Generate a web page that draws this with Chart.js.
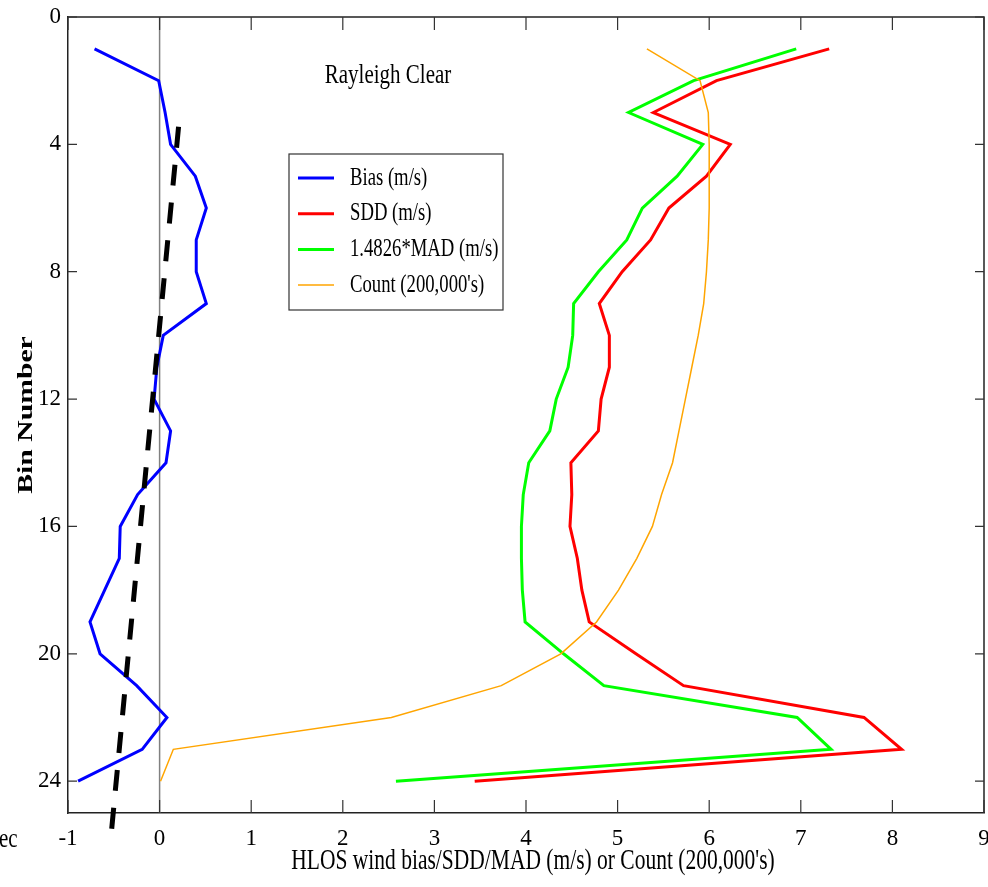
<!DOCTYPE html>
<html><head><meta charset="utf-8">
<script src="https://cdn.jsdelivr.net/npm/chart.js@4/dist/chart.umd.min.js"></script>
<style>html,body{margin:0;padding:0;background:#fff;}</style>
</head><body>
<canvas id="c" width="988" height="887"></canvas>
<script>
const bins = [1,2,3,4,5,6,7,8,9,10,11,12,13,14,15,16,17,18,19,20,21,22,23,24];
const bias = [-0.71,-0.01,0.06,0.12,0.39,0.51,0.40,0.40,0.51,0.04,-0.03,-0.06,0.12,0.07,-0.24,-0.43,-0.44,-0.60,-0.76,-0.65,-0.25,0.08,-0.19,-0.89];
const sdd = [7.31,6.08,5.39,6.23,5.97,5.56,5.36,5.05,4.80,4.91,4.91,4.82,4.79,4.49,4.50,4.48,4.56,4.61,4.69,5.20,5.72,7.69,8.10,3.44];
const mad = [6.95,5.83,5.12,5.93,5.65,5.27,5.10,4.79,4.52,4.51,4.46,4.33,4.26,4.03,3.97,3.95,3.95,3.96,3.99,4.41,4.85,6.96,7.33,2.58];
const count = [5.32,5.90,5.99,6.00,6.00,6.00,5.99,5.97,5.94,5.88,5.81,5.74,5.67,5.60,5.48,5.38,5.21,5.01,4.77,4.38,3.73,2.53,0.15,0.01];
const trendBins = [3.45, 25.62];
const trendX = [0.207, -0.527];
const zeroBins = [0, 25];
const zeroX = [0, 0];
const xTicks = [-1,0,1,2,3,4,5,6,7,8,9];
const yTicks = [0,4,8,12,16,20,24];
const seriesLabels = ["Bias (m/s)", "SDD (m/s)", "1.4826*MAD (m/s)", "Count (200,000's)"];
const chartTitle = "Rayleigh Clear";
const xTitle = "HLOS wind bias/SDD/MAD (m/s) or Count (200,000's)";
const yTitle = "Bin Number";
const cornerText = "ec";

const FONT = "'Liberation Serif', 'Times New Roman', serif";
const STRETCH = 1.35;
const pts = (xs, ys) => xs.map((v, i) => ({x: v, y: ys[i]}));
const line = (o) => Object.assign({showLine: true, pointRadius: 0, fill: false, tension: 0}, o);

const datasets = [
  line({label: 'trend', data: pts(trendX, trendBins), borderColor: '#000000', borderWidth: 5, borderDash: [21, 17], clip: false}),
  line({label: seriesLabels[3], data: pts(count, bins), borderColor: '#ffa500', borderWidth: 1.5}),
  line({label: seriesLabels[2], data: pts(mad, bins), borderColor: '#00ff00', borderWidth: 3}),
  line({label: seriesLabels[1], data: pts(sdd, bins), borderColor: '#ff0000', borderWidth: 3}),
  line({label: seriesLabels[0], data: pts(bias, bins), borderColor: '#0000ff', borderWidth: 3}),
  line({label: 'zero', data: pts(zeroX, zeroBins), borderColor: '#808080', borderWidth: 1.5})
];
const legendOrder = [4, 3, 2, 1];

function txt(ctx, s, x, y, font, align, rot) {
  ctx.save();
  ctx.translate(x, y);
  if (rot) { ctx.rotate(rot); ctx.scale(STRETCH, 1); } else { ctx.scale(1, STRETCH); }
  ctx.font = font;
  ctx.textAlign = align;
  ctx.textBaseline = 'middle';
  ctx.fillStyle = '#000';
  ctx.fillText(s, 0, 0);
  ctx.restore();
}

const deco = {
  id: 'deco',
  afterDraw(chart) {
    const {ctx, chartArea: a, scales: {x, y}} = chart;
    ctx.save();
    ctx.strokeStyle = '#222';
    ctx.lineWidth = 1.5;
    ctx.beginPath();
    ctx.moveTo(a.left, a.top); ctx.lineTo(a.right, a.top); ctx.lineTo(a.right, a.bottom);
    ctx.stroke();
    ctx.lineWidth = 1.2;
    ctx.strokeStyle = '#333';
    ctx.beginPath();
    xTicks.forEach(v => {
      const px = x.getPixelForValue(v);
      ctx.moveTo(px, a.bottom); ctx.lineTo(px, a.bottom - 13);
      ctx.moveTo(px, a.top); ctx.lineTo(px, a.top + 13);
    });
    yTicks.forEach(v => {
      const py = y.getPixelForValue(v);
      ctx.moveTo(a.left, py); ctx.lineTo(a.left + 9, py);
      ctx.moveTo(a.right, py); ctx.lineTo(a.right - 9, py);
    });
    ctx.stroke();
    txt(ctx, chartTitle, 388, 76, '21px ' + FONT, 'center');
    txt(ctx, xTitle, 533, 861, '21.5px ' + FONT, 'center');
    txt(ctx, cornerText, -1, 840, '21px ' + FONT, 'left');
    txt(ctx, yTitle, 26, 415, 'bold 22px ' + FONT, 'center', -Math.PI / 2);
    const L = {x: 289, y: 154, w: 214, h: 156};
    ctx.fillStyle = '#fff';
    ctx.fillRect(L.x, L.y, L.w, L.h);
    ctx.strokeStyle = '#333';
    ctx.lineWidth = 1.2;
    ctx.strokeRect(L.x, L.y, L.w, L.h);
    legendOrder.forEach((di, k) => {
      const ds = chart.data.datasets[di];
      const yy = 178 + k * 35.7;
      ctx.strokeStyle = ds.borderColor;
      ctx.lineWidth = ds.borderWidth;
      ctx.beginPath(); ctx.moveTo(298, yy); ctx.lineTo(334, yy); ctx.stroke();
      txt(ctx, ds.label, 350, yy, '18.7px ' + FONT, 'left');
    });
    ctx.restore();
  }
};

new Chart(document.getElementById('c'), {
  type: 'scatter',
  data: {datasets},
  options: {
    responsive: false,
    animation: false,
    events: [],
    layout: {autoPadding: false, padding: {left: 0, right: 4, top: 17, bottom: 0}},
    plugins: {legend: {display: false}, tooltip: {enabled: false}},
    scales: {
      x: {
        type: 'linear', min: -1, max: 9,
        afterFit(s) { s.height = 74; s.paddingLeft = 0; s.paddingRight = 0; },
        afterBuildTicks(s) { s.ticks = xTicks.map(v => ({value: v})); },
        grid: {display: true, drawOnChartArea: false, drawTicks: false},
        border: {display: true, color: '#222', width: 1.5},
        ticks: {color: '#000', font: {family: FONT, size: 23}, padding: 12, maxRotation: 0, autoSkip: false}
      },
      y: {
        type: 'linear', min: 0, max: 25, reverse: true,
        afterFit(s) { s.width = 68; s.paddingTop = 0; s.paddingBottom = 0; },
        afterBuildTicks(s) { s.ticks = yTicks.map(v => ({value: v})); },
        grid: {display: true, drawOnChartArea: false, drawTicks: false},
        border: {display: true, color: '#222', width: 1.5},
        ticks: {color: '#000', font: {family: FONT, size: 23}, padding: 7, autoSkip: false}
      }
    }
  },
  plugins: [deco]
});
</script>
</body></html>
